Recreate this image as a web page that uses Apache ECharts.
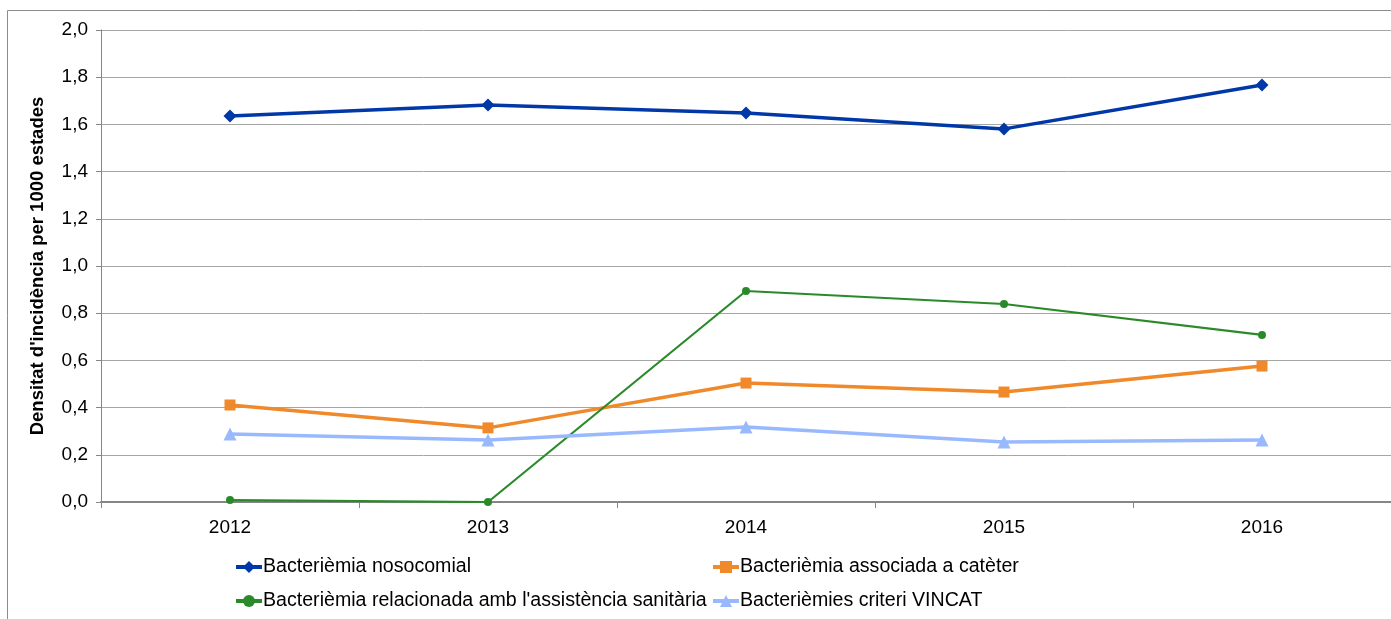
<!DOCTYPE html>
<html>
<head>
<meta charset="utf-8">
<script src="https://cdn.jsdelivr.net/npm/echarts@6/dist/echarts.min.js"></script>
<style>html,body{margin:0;padding:0;background:#fff;}#c{width:1391px;height:619px;}</style>
</head>
<body>
<div id="c"></div>
<script>
const years = ['2012', '2013', '2014', '2015', '2016'];
const nosocomial = [1.636, 1.682, 1.648, 1.581, 1.767];
const cateter = [0.411, 0.314, 0.504, 0.466, 0.576];
const relacionada = [0.008, 0.0, 0.894, 0.839, 0.708];
const vincat = [0.288, 0.263, 0.318, 0.254, 0.263];
const names = ['Bacterièmia nosocomial', 'Bacterièmia associada a catèter', "Bacterièmia relacionada amb l'assistència sanitària", 'Bacterièmies criteri VINCAT'];

const FONT = 'Liberation Sans';
const chart = echarts.init(document.getElementById('c'));
const legendText = {fontFamily: FONT, fontSize: 19.6, color: '#000', padding: [0, 0, 0, -4]};
function lg(name, left, top) {
  return {data: [name], left: left, top: top, itemWidth: 26, itemHeight: 15, padding: 0,
    lineStyle: {width: 4}, textStyle: legendText, selectedMode: false};
}
chart.setOption({
  animation: false,
  textStyle: {fontFamily: FONT},
  graphic: [{type: 'rect', shape: {x: 7.5, y: 10.5, width: 1420, height: 640}, style: {fill: 'none', stroke: '#8c8c8c', lineWidth: 1}, silent: true}],
  grid: {left: 101, top: 30, width: 1293, height: 472, containLabel: false},
  legend: [lg(names[0], 234, 557), lg(names[1], 711, 557), lg(names[2], 234, 591), lg(names[3], 711, 591)],
  xAxis: {
    type: 'category', data: years, boundaryGap: true,
    axisLine: {lineStyle: {color: '#868686', width: 2}},
    axisTick: {show: true, length: 6, lineStyle: {color: '#868686'}},
    axisLabel: {fontFamily: FONT, fontSize: 19, color: '#000', margin: 16},
    splitLine: {show: false}
  },
  yAxis: {
    type: 'value', min: 0, max: 2, interval: 0.2,
    name: "Densitat d'incidència per 1000 estades", nameLocation: 'middle', nameGap: 54, nameRotate: 90,
    nameTextStyle: {fontFamily: FONT, fontSize: 18.5, fontWeight: 'bold', color: '#000'},
    axisLine: {show: true, lineStyle: {color: '#868686'}},
    axisTick: {show: true, length: 5, lineStyle: {color: '#868686'}},
    axisLabel: {fontFamily: FONT, fontSize: 19, color: '#000', margin: 13, formatter: v => v.toFixed(1).replace('.', ',')},
    splitLine: {lineStyle: {color: '#a6a6a6', width: 1}}
  },
  series: [
    {name: names[0], type: 'line', data: nosocomial, symbol: 'diamond', symbolSize: 13, lineStyle: {color: '#0038A8', width: 3.5}, itemStyle: {color: '#0038A8'}},
    {name: names[1], type: 'line', data: cateter, symbol: 'rect', symbolSize: 11, lineStyle: {color: '#F0892A', width: 3.5}, itemStyle: {color: '#F0892A'}},
    {name: names[2], type: 'line', data: relacionada, symbol: 'circle', symbolSize: 8, lineStyle: {color: '#2A8A2A', width: 2.2}, itemStyle: {color: '#2A8A2A'}},
    {name: names[3], type: 'line', data: vincat, symbol: 'triangle', symbolSize: 13, lineStyle: {color: '#99B9FF', width: 3.5}, itemStyle: {color: '#99B9FF'}}
  ]
});
</script>
</body>
</html>
